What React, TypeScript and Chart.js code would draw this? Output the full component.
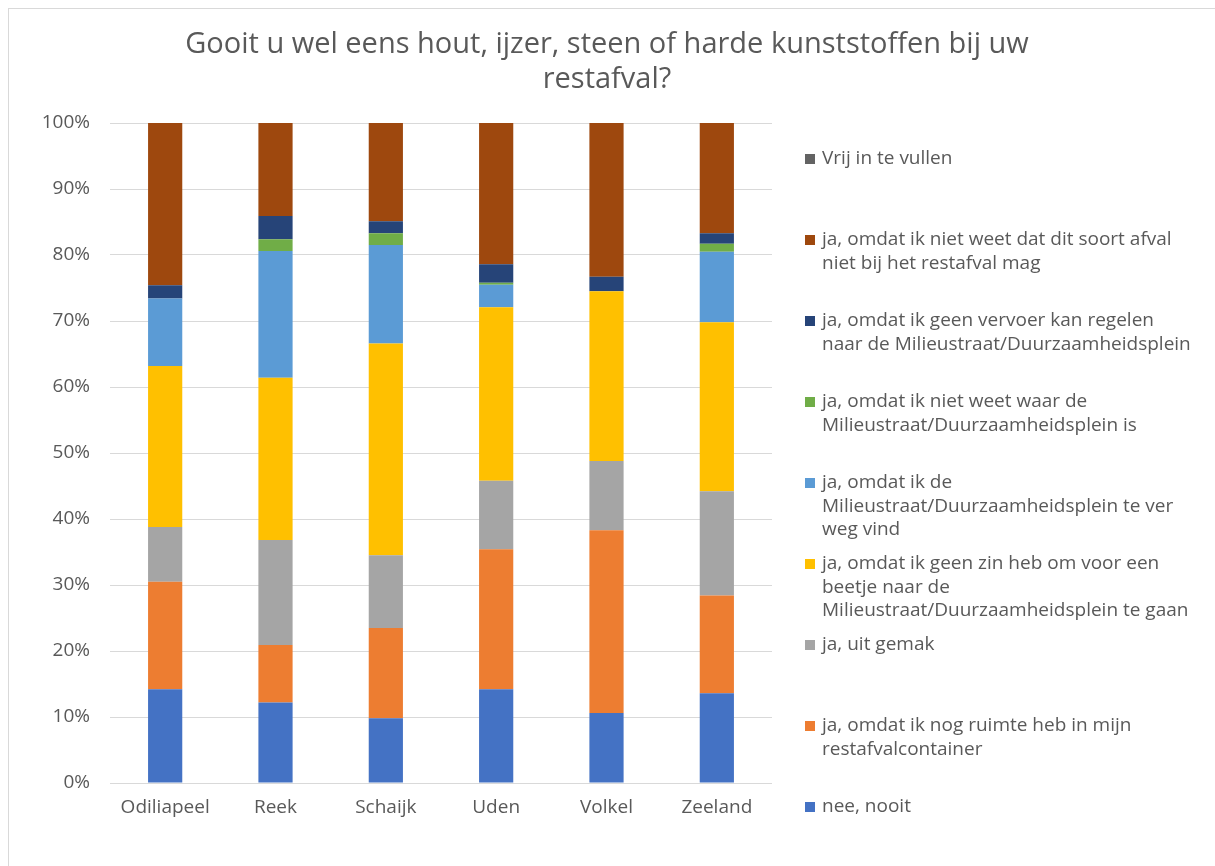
import React, { useEffect, useRef } from "react";
import { Chart, registerables } from "chart.js";

Chart.register(...registerables);

const categories = ["Odiliapeel", "Reek", "Schaijk", "Uden", "Volkel", "Zeeland"];

const titleLines = [
  "Gooit u wel eens hout, ijzer, steen of harde kunststoffen bij uw",
  "restafval?",
];

// series, bottom of stack first
const neeNooit = [14.2, 12.2, 9.8, 14.2, 10.6, 13.6];
const nogRuimte = [16.3, 8.7, 13.7, 21.2, 27.7, 14.8];
const uitGemak = [8.3, 15.9, 11.0, 10.4, 10.5, 15.8];
const geenZin = [24.4, 24.6, 32.1, 26.3, 25.7, 25.6];
const teVerWeg = [10.2, 19.2, 14.9, 3.4, 0, 10.7];
const nietWeetWaar = [0, 1.8, 1.8, 0.3, 0, 1.2];
const geenVervoer = [2.0, 3.5, 1.8, 2.8, 2.2, 1.6];
const nietWeetDat = [24.6, 14.1, 14.9, 21.4, 23.3, 16.7];
const vrijInTeVullen = [0, 0, 0, 0, 0, 0];

const seriesLabels: string[][] = [
  ["nee, nooit"],
  ["ja, omdat ik nog ruimte heb in mijn", "restafvalcontainer"],
  ["ja, uit gemak"],
  ["ja, omdat ik geen zin heb om voor een", "beetje naar de", "Milieustraat/Duurzaamheidsplein te gaan"],
  ["ja, omdat ik de", "Milieustraat/Duurzaamheidsplein te ver", "weg vind"],
  ["ja, omdat ik niet weet waar de", "Milieustraat/Duurzaamheidsplein is"],
  ["ja, omdat ik geen vervoer kan regelen", "naar de Milieustraat/Duurzaamheidsplein"],
  ["ja, omdat ik niet weet dat dit soort afval", "niet bij het restafval mag"],
  ["Vrij in te vullen"],
];

const seriesValues = [
  neeNooit,
  nogRuimte,
  uitGemak,
  geenZin,
  teVerWeg,
  nietWeetWaar,
  geenVervoer,
  nietWeetDat,
  vrijInTeVullen,
];

const seriesColors = [
  "#4472C4",
  "#ED7D31",
  "#A5A5A5",
  "#FFC000",
  "#5B9BD5",
  "#70AD47",
  "#264478",
  "#9E480E",
  "#636363",
];

const yTicks = [0, 10, 20, 30, 40, 50, 60, 70, 80, 90, 100];

const TEXT = "#595959";
const FONT = "'Open Sans', 'DejaVu Sans', sans-serif";

const W = 1205;
const H = 857;

const titlePlugin = {
  id: "customTitle",
  afterDraw(chart: any) {
    const ctx = chart.ctx;
    ctx.save();
    ctx.fillStyle = TEXT;
    ctx.font = `29px ${FONT}`;
    ctx.textAlign = "center";
    ctx.textBaseline = "middle";
    titleLines.forEach((line, i) => {
      ctx.fillText(line, 598, 36 + i * 35);
    });
    ctx.restore();
  },
};

const legendPlugin = {
  id: "customLegend",
  afterDraw(chart: any) {
    const ctx = chart.ctx;
    const ds = chart.data.datasets;
    ctx.save();
    ctx.font = `19px ${FONT}`;
    ctx.textAlign = "left";
    ctx.textBaseline = "middle";
    const n = ds.length;
    for (let k = 0; k < n; k++) {
      const d = ds[n - 1 - k];
      const y = 150 + 81 * k;
      ctx.fillStyle = d.backgroundColor;
      ctx.fillRect(796, y - 5, 10, 10);
      ctx.fillStyle = TEXT;
      const lines: string[] = d.legendLines;
      lines.forEach((l, j) => ctx.fillText(l, 813, y + j * 23.3));
    }
    ctx.restore();
  },
};

export default function App() {
  const ref = useRef<HTMLCanvasElement>(null);
  useEffect(() => {
    if (!ref.current) return;
    const chart = new Chart(ref.current, {
      type: "bar",
      data: {
        labels: categories,
        datasets: seriesValues.map((vals, i) => ({
          label: seriesLabels[i].join(" "),
          legendLines: seriesLabels[i],
          data: vals,
          backgroundColor: seriesColors[i],
          borderWidth: 0,
          barPercentage: 0.31,
          categoryPercentage: 1,
        })) as any,
      },
      options: {
        responsive: false,
        animation: false,
        layout: { padding: { top: 114, right: 442, left: 0, bottom: 0 } },
        plugins: {
          legend: { display: false },
          title: { display: false },
          tooltip: { enabled: false },
        },
        scales: {
          x: {
            stacked: true,
            grid: { display: false, drawTicks: false },
            border: { display: false },
            ticks: {
              color: TEXT,
              font: { family: FONT, size: 19 },
              padding: 13,
            },
            afterFit(scale: any) {
              scale.height = 83;
            },
          },
          y: {
            stacked: true,
            min: 0,
            max: 100,
            afterBuildTicks(scale: any) {
              scale.ticks = yTicks.map((v) => ({ value: v }));
            },
            grid: { color: "#D9D9D9", lineWidth: 1, drawTicks: false },
            border: { display: false },
            ticks: {
              color: TEXT,
              font: { family: FONT, size: 19 },
              padding: 20,
              callback: (v: any) => `${v}%`,
            },
            afterFit(scale: any) {
              scale.width = 101;
            },
          },
        },
      },
      plugins: [titlePlugin, legendPlugin],
    });
    return () => chart.destroy();
  }, []);

  return (
    <div
      style={{
        position: "absolute",
        left: 8,
        top: 8,
        width: W + 2,
        height: H + 1,
        border: "1px solid #D9D9D9",
        borderBottom: "none",
        background: "#fff",
      }}
    >
      <canvas ref={ref} width={W} height={H} style={{ display: "block", width: W, height: H }} />
    </div>
  );
}
